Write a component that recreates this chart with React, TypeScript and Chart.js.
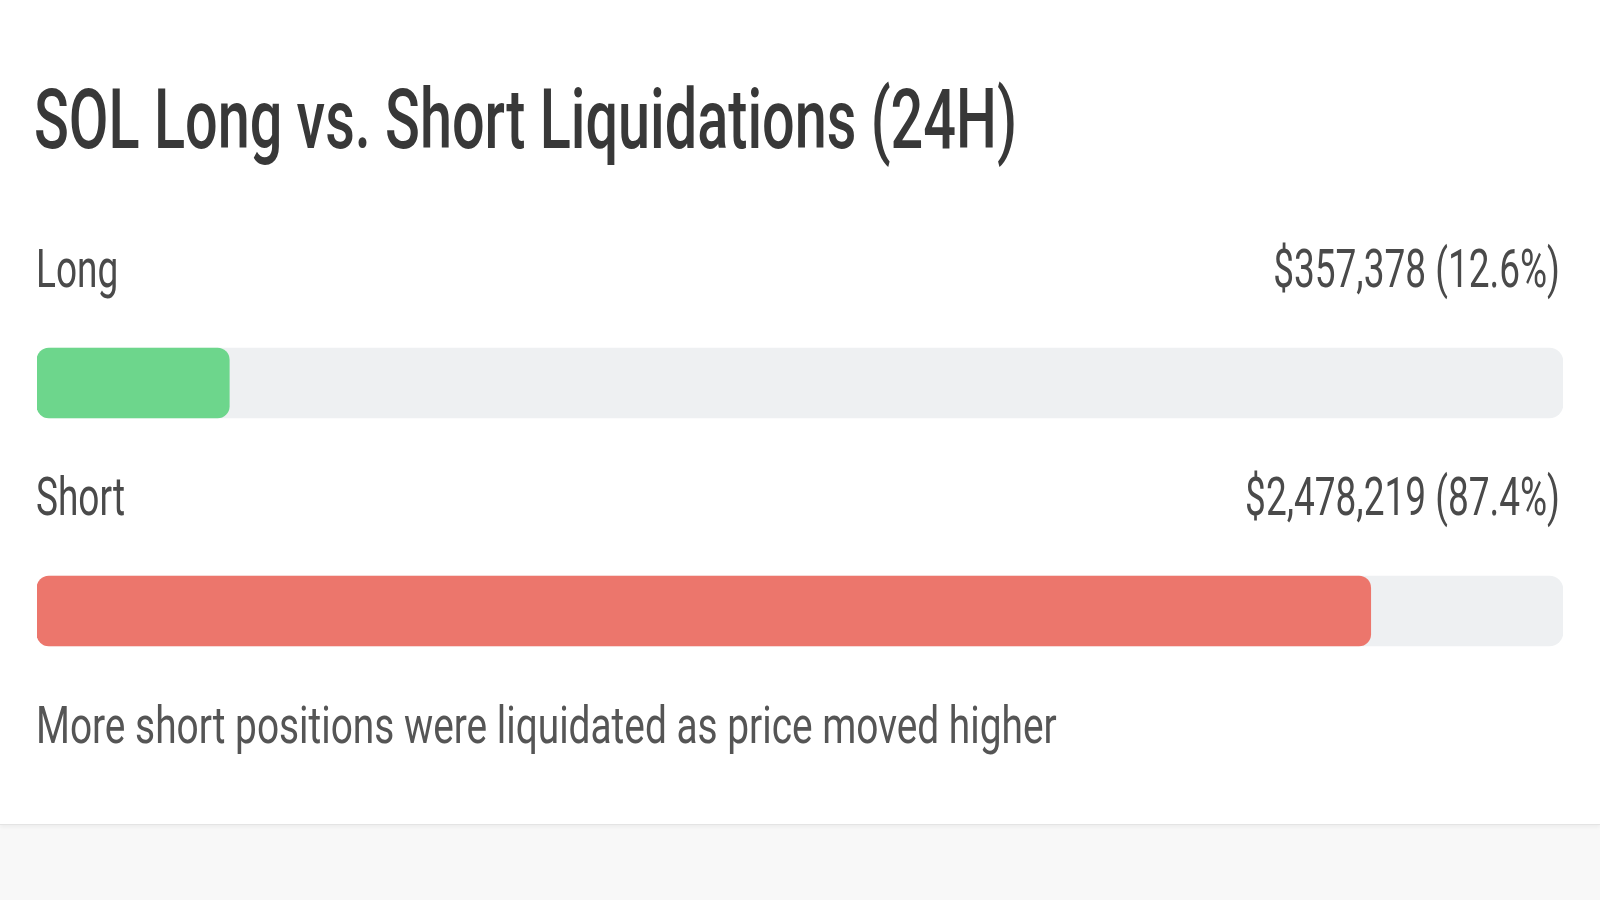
import { useEffect, useRef } from 'react'
import { Chart, registerables, type Plugin } from 'chart.js'

Chart.register(...registerables)

const TITLE = 'SOL Long vs. Short Liquidations (24H)'
const FOOTNOTE = 'More short positions were liquidated as price moved higher'

const sides = ['Long', 'Short']
const amounts = [357378, 2478219]
const shares = [12.6, 87.4]
const sideColors = ['#6dd68c', '#ec766c']
const trackValues = [100, 100]

const FONT = 'Roboto, "Noto Sans", sans-serif'
// the reference type is a narrow face, squeeze a normal one to fit
const TITLE_WIDTH = 983

const formatAmount = (v: number) => '$' + v.toLocaleString('en-US')

const textLayer: Plugin<'bar'> = {
  id: 'textLayer',
  afterDatasetsDraw(chart) {
    const { ctx, chartArea } = chart
    const meta = chart.getDatasetMeta(1)

    ctx.save()
    ctx.font = `500 84px ${FONT}`
    const squeeze = TITLE_WIDTH / ctx.measureText(TITLE).width

    const draw = (
      text: string,
      x: number,
      y: number,
      font: string,
      color: string,
      align: CanvasTextAlign,
      widen = 1,
    ) => {
      const sx = squeeze * widen
      ctx.save()
      ctx.font = font
      ctx.fillStyle = color
      ctx.textAlign = align
      ctx.textBaseline = 'alphabetic'
      ctx.scale(sx, 1)
      ctx.fillText(text, x / sx, y)
      ctx.restore()
    }

    draw(TITLE, chartArea.left - 3, 148, `500 84px ${FONT}`, '#383838', 'left')

    meta.data.forEach((bar, i) => {
      const y = bar.y - 96
      draw(sides[i], chartArea.left - 1, y, `400 54px ${FONT}`, '#4a4a4a', 'left')
      draw(
        `${formatAmount(amounts[i])} (${shares[i].toFixed(1)}%)`,
        chartArea.right - 3,
        y,
        `400 54px ${FONT}`,
        '#4a4a4a',
        'right',
      )
    })

    const last = meta.data[meta.data.length - 1]
    if (last) {
      draw(FOOTNOTE, chartArea.left - 1, last.y + 132, `400 52px ${FONT}`, '#555555', 'left', 1.09)
    }
    ctx.restore()
  },
}

const LiquidationBars = () => {
  const canvasRef = useRef<HTMLCanvasElement | null>(null)

  useEffect(() => {
    if (!canvasRef.current) {
      return undefined
    }

    const chart = new Chart(canvasRef.current, {
      type: 'bar',
      data: {
        labels: sides,
        datasets: [
          {
            label: 'Track',
            data: trackValues,
            backgroundColor: '#eef0f2',
            grouped: false,
            order: 2,
            barThickness: 70,
            borderRadius: 14,
            borderSkipped: false,
          },
          {
            label: 'Share',
            data: shares,
            backgroundColor: sideColors,
            grouped: false,
            order: 1,
            barThickness: 70,
            borderRadius: 12,
            borderSkipped: false,
          },
        ],
      },
      options: {
        indexAxis: 'y',
        animation: false,
        responsive: true,
        maintainAspectRatio: false,
        layout: {
          padding: { left: 37, right: 37, top: 269, bottom: 99 },
        },
        scales: {
          x: { display: false, min: 0, max: 100 },
          y: { display: false },
        },
        plugins: {
          legend: { display: false },
          tooltip: { enabled: false },
        },
      },
      plugins: [textLayer],
    })

    return () => {
      chart.destroy()
    }
  }, [])

  return (
    <div
      style={{
        position: 'relative',
        width: 1600,
        height: 824,
        background: '#ffffff',
        borderBottom: '1px solid #e4e4e4',
        boxShadow: '0 2px 4px rgba(0,0,0,0.05)',
      }}
    >
      <canvas ref={canvasRef} aria-label="SOL long vs short liquidations" />
    </div>
  )
}

const App = () => {
  useEffect(() => {
    document.body.style.margin = '0'
  }, [])

  return (
    <div style={{ width: 1600, height: 900, background: '#f8f8f8', overflow: 'hidden' }}>
      <LiquidationBars />
    </div>
  )
}

export default App
